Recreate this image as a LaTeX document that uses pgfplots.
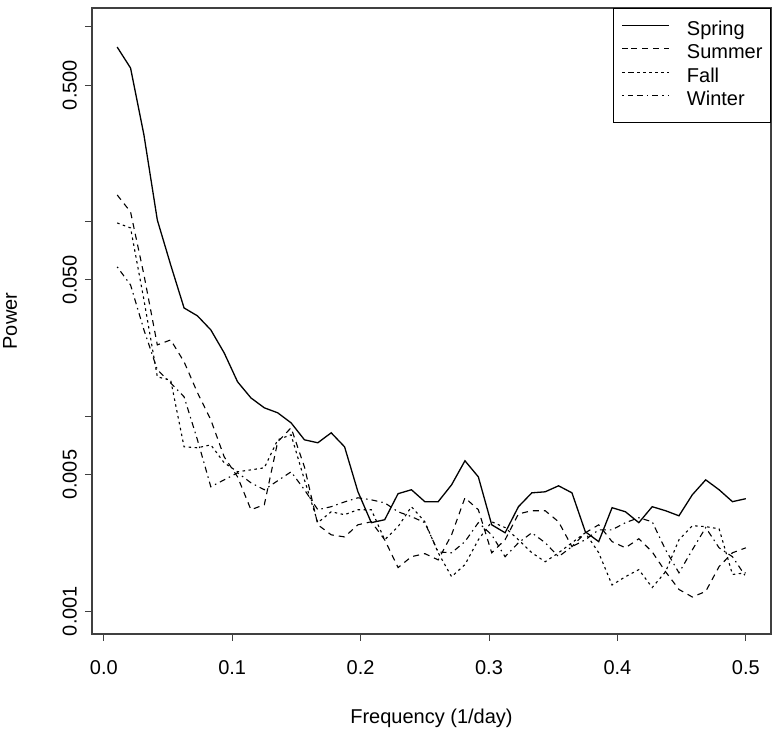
\documentclass[border=0pt]{standalone}
\usepackage{pgfplots}
\pgfplotsset{compat=1.18}
\usepackage{pgfplotstable}
\usepackage{fontspec}
\setmainfont{Liberation Sans}
\newcommand\rfont{\fontsize{20bp}{24bp}\selectfont}

\pgfplotstableread{
f spring summer fall winter
0.010417 0.783 0.1364 0.0980 0.0583
0.020833 0.611 0.1116 0.0924 0.0471
0.031250 0.277 0.0531 0.0395 0.0277
0.041667 0.1015 0.0232 0.0159 0.0173
0.052083 0.0597 0.0246 0.0153 0.0148
0.062500 0.0359 0.0190 0.00696 0.01256
0.072917 0.0327 0.0132 0.00688 0.00756
0.083333 0.0277 0.00957 0.00712 0.00434
0.093750 0.0211 0.00618 0.00576 0.00471
0.104167 0.0150 0.00488 0.00518 0.00512
0.114583 0.0124 0.00331 0.00530 0.00455
0.125000 0.01103 0.00351 0.00543 0.00419
0.135417 0.0104 0.00738 0.00756 0.00466
0.145833 0.00924 0.00871 0.00802 0.00518
0.156250 0.00756 0.00549 0.00471 0.00419
0.166667 0.00730 0.00277 0.00284 0.00331
0.177083 0.00821 0.00246 0.00323 0.00343
0.187500 0.00696 0.00240 0.00312 0.00363
0.197917 0.00409 0.00277 0.00331 0.00381
0.208333 0.00284 0.00287 0.00331 0.00372
0.218750 0.00294 0.00232 0.00232 0.00359
0.229167 0.00400 0.00167 0.00271 0.00323
0.239583 0.00419 0.00190 0.00343 0.00305
0.250000 0.00364 0.00197 0.00287 0.00284
0.260417 0.00364 0.00183 0.00199 0.00201
0.270833 0.00444 0.00246 0.00150 0.00199
0.281250 0.00590 0.00381 0.00173 0.00227
0.291667 0.00488 0.00331 0.00232 0.00284
0.302083 0.00277 0.00199 0.00287 0.00246
0.312500 0.00252 0.00232 0.00268 0.00190
0.322917 0.00343 0.00315 0.00232 0.00224
0.333333 0.00404 0.00327 0.00199 0.00252
0.343750 0.00409 0.00327 0.00179 0.00224
0.354167 0.00439 0.00287 0.00199 0.00190
0.364583 0.00404 0.00214 0.00224 0.00214
0.375000 0.00255 0.00252 0.00252 0.00232
0.385417 0.00227 0.00277 0.00199 0.00261
0.395833 0.00339 0.00227 0.00136 0.00261
0.406250 0.00323 0.00211 0.00150 0.00284
0.416667 0.00284 0.00235 0.00163 0.00301
0.427083 0.00343 0.00201 0.00132 0.00287
0.437500 0.00327 0.00159 0.00159 0.00206
0.447917 0.00308 0.00129 0.00232 0.00157
0.458333 0.00395 0.00118 0.00274 0.00206
0.468750 0.00471 0.00126 0.00271 0.00268
0.479167 0.00419 0.00169 0.00264 0.00211
0.489583 0.00364 0.00199 0.00154 0.00190
0.500000 0.00377 0.00211 0.00157 0.00150
}\data

\begin{document}
\begin{tikzpicture}
\begin{axis}[
  name=ax,
  scale only axis,
  width=679bp, height=626bp,
  xmin=-0.0092, xmax=0.5196,
  ymode=log, ymin=0.000762, ymax=1.242,
  xtick={0,0.1,0.2,0.3,0.4,0.5},
  xticklabels={0.0,0.1,0.2,0.3,0.4,0.5},
  ytick={0.001,0.005,0.01,0.05,0.1,0.5,1},
  yticklabels={0.001,0.005,,0.050,,0.500,},
  minor tick num=0,
  log ticks with fixed point,
  tick align=outside,
  major tick length=7bp,
  tick style={line width=1bp, draw=black!75},
  axis line style={line width=1.2bp, draw=black!75},
  xtick pos=bottom, ytick pos=left,
  xticklabel style={font=\rfont, inner sep=0pt, anchor=north},
  yticklabel style={font=\rfont, inner sep=0pt, rotate=90, anchor=south},
  xticklabel shift=19bp,
  yticklabel shift=8bp,
  every axis x label/.style={at={(axis description cs:0.5,0)}, anchor=center, yshift=-84bp, font=\rfont},
  every axis y label/.style={at={(axis description cs:0,0.5)}, xshift=-82bp, rotate=90, anchor=center, font=\rfont},
  xlabel={Frequency (1/day)},
  ylabel={Power},
  legend cell align=left,
  legend style={at={(1,1)}, anchor=north east, draw=black, line width=1bp,
    inner xsep=8bp, inner ysep=12bp, column sep=17bp, row sep=3.3bp,
    font=\rfont, nodes={inner sep=0pt, text height=15bp, text depth=5bp}},
  legend image code/.code={\path (0bp,5bp) -- (9bp,5bp); \draw[#1] (9bp,5bp) -- (47bp,5bp);},
]
\addplot[black, line width=1.3bp] table[x=f,y=spring] {\data};
\addlegendentry{Spring}
\addplot[black, line width=1.1bp, dash pattern=on 6bp off 5bp] table[x=f,y=summer] {\data};
\addlegendentry{Summer}
\addplot[black, line width=1.1bp, dash pattern=on 2.5bp off 3.5bp] table[x=f,y=fall] {\data};
\addlegendentry{Fall}
\addplot[black, line width=1.1bp, dash pattern=on 1.5bp off 4bp on 6bp off 4bp] table[x=f,y=winter] {\data};
\addlegendentry{Winter}
\end{axis}
\pgfresetboundingbox
\path[use as bounding box] ([xshift=-92bp,yshift=-100bp]ax.south west) rectangle ([xshift=2bp,yshift=8bp]ax.north east);
\end{tikzpicture}
\end{document}
